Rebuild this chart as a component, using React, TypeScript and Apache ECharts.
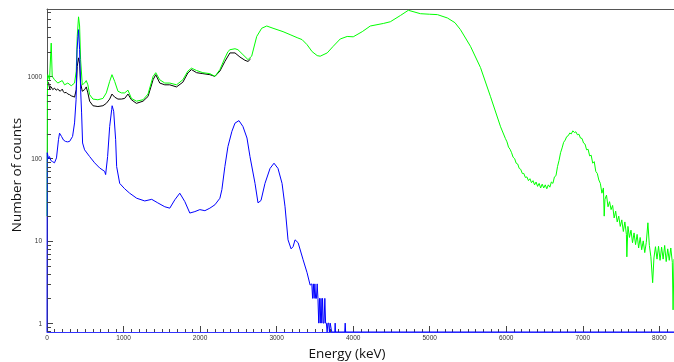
import React, { useEffect, useRef } from "react";
import * as echarts from "echarts";

// Axis ranges (keV, counts)
const X_MIN = 0;
const X_MAX = 8192;
const X_INTERVAL = 1000;
const Y_MIN = 0.78;
const Y_MAX = 6600;

const xTitle = "Energy (keV)";
const yTitle = "Number of counts";

// [energy keV, counts]
const greenData: [number, number][] = [
  [0, 20], [5, 600], [10, 1050], [33, 912], [55, 2540], [68, 1000], [98, 912], [141, 830],
  [199, 890], [229, 790], [272, 830], [317, 770], [360, 830], [382, 1160], [395, 3060],
  [412, 5300], [426, 4100], [439, 1600], [461, 790], [491, 830], [513, 890], [534, 790],
  [557, 600], [600, 530], [665, 520], [731, 540], [775, 630], [819, 870], [849, 1050],
  [884, 870], [927, 660], [972, 630], [1015, 630], [1058, 680], [1103, 540], [1168, 500],
  [1255, 520], [1320, 610], [1386, 1000], [1421, 1110], [1473, 910], [1539, 830], [1604, 830],
  [1692, 790], [1775, 910], [1840, 1160], [1888, 1260], [1954, 1180], [2036, 1110],
  [2128, 1080], [2194, 1000], [2259, 1210], [2324, 1670], [2364, 2000], [2390, 2110],
  [2456, 2170], [2495, 2110], [2560, 1840], [2626, 1600], [2674, 1760], [2740, 3060],
  [2805, 3850], [2871, 4100], [2953, 3850], [3084, 3500], [3176, 3220], [3268, 2960],
  [3333, 2800], [3398, 2430], [3464, 2000], [3530, 1790], [3569, 1760], [3661, 1930],
  [3739, 2320], [3831, 2850], [3922, 3060], [4001, 3030], [4119, 3500], [4224, 4100],
  [4394, 4400], [4486, 4620], [4617, 5500], [4721, 6370], [4878, 5790], [5000, 5700],
  [5101, 5640], [5232, 5130], [5330, 4500], [5402, 3700], [5533, 2320], [5664, 1280],
  [5795, 566], [5926, 244], [5990, 175], [6010, 160], [6030, 138], [6050, 130], [6070, 118],
  [6090, 104], [6110, 100], [6130, 88], [6150, 86], [6170, 76], [6190, 74], [6210, 66],
  [6230, 66], [6250, 59], [6270, 60], [6290, 54], [6310, 57], [6330, 51], [6350, 54],
  [6370, 48], [6390, 52], [6410, 46], [6430, 50], [6450, 44], [6470, 49], [6490, 44],
  [6510, 48], [6530, 43], [6550, 48], [6570, 45], [6590, 52], [6610, 50], [6630, 60],
  [6650, 62], [6670, 80], [6690, 95], [6710, 118], [6730, 135], [6750, 158], [6770, 168],
  [6790, 185], [6810, 190], [6830, 205], [6850, 200], [6870, 218], [6890, 208], [6910, 212],
  [6930, 195], [6950, 198], [6970, 178], [6990, 176], [7010, 155], [7030, 150], [7050, 128],
  [7070, 130], [7090, 108], [7110, 110], [7130, 88], [7150, 92], [7170, 70], [7190, 66],
  [7210, 55], [7230, 50], [7250, 38], [7270, 44], [7280, 20], [7290, 32], [7310, 36],
  [7330, 26], [7350, 30], [7370, 24], [7390, 27], [7410, 19], [7430, 23], [7450, 17],
  [7470, 20], [7490, 15], [7510, 18], [7530, 13], [7550, 17], [7570, 12], [7576, 6.4],
  [7590, 15], [7610, 11], [7630, 13.5], [7650, 9.5], [7670, 12.5], [7690, 9], [7710, 12],
  [7730, 8.2], [7750, 11], [7770, 7.8], [7790, 10], [7810, 7.2], [7830, 9.6], [7851, 16.6],
  [7870, 8.8], [7890, 6.4], [7913, 3.1], [7930, 6.2], [7950, 8.5], [7970, 6], [7990, 8.6],
  [8010, 5.8], [8030, 8.4], [8050, 6], [8070, 8.8], [8090, 5.6], [8110, 8], [8130, 5.8],
  [8150, 8.2], [8170, 5.5], [8180, 1.45], [8192, 6],
];

const blackData: [number, number][] = [
  [20, 850], [35, 700], [45, 760], [55, 745], [75, 690], [98, 720], [120, 680], [140, 700],
  [173, 660], [199, 700], [215, 650], [229, 630], [250, 640], [272, 610], [295, 600],
  [317, 580], [340, 570], [360, 560], [382, 690], [395, 1320], [412, 1680], [426, 1450],
  [439, 830], [461, 660], [491, 690], [513, 745], [534, 630], [557, 500], [600, 440],
  [665, 430], [731, 440], [775, 470], [819, 530], [849, 610], [884, 560], [927, 530],
  [972, 530], [1015, 540], [1058, 610], [1103, 520], [1168, 470], [1255, 500], [1320, 570],
  [1386, 912], [1421, 1050], [1473, 830], [1539, 790], [1604, 790], [1692, 745], [1775, 850],
  [1840, 1100], [1888, 1210], [1954, 1110], [2036, 1080], [2128, 1050], [2194, 1000],
  [2259, 1160], [2324, 1520], [2390, 1930], [2456, 1930], [2521, 1720], [2586, 1570],
  [2626, 1520], [2660, 1630],
];

const blueData: [number, number][] = [
  [0, 0], [3, 118], [20, 100], [33, 106], [50, 95], [72, 92], [98, 89], [124, 102],
  [150, 170], [164, 204], [190, 186], [216, 168], [242, 162], [268, 160], [295, 162],
  [334, 186], [360, 272], [380, 520], [393, 2130], [412, 3700], [426, 2130], [439, 700],
  [452, 360], [465, 155], [491, 128], [557, 106], [622, 89], [688, 77], [753, 70], [766, 64],
  [792, 106], [819, 246], [845, 394], [851, 440], [871, 377], [897, 170], [910, 80],
  [950, 50], [1015, 43], [1080, 38], [1172, 33], [1277, 30.6], [1368, 32], [1447, 29],
  [1539, 26], [1604, 25], [1670, 31.6], [1735, 38], [1801, 30], [1866, 21.8], [1932, 22.7],
  [1997, 24], [2063, 23.3], [2128, 25], [2194, 27.5], [2259, 33], [2285, 42], [2324, 80],
  [2364, 140], [2416, 215], [2456, 270], [2508, 290], [2560, 246], [2613, 178], [2652, 106],
  [2718, 50], [2757, 29], [2796, 31], [2848, 50], [2914, 76], [2966, 88], [3018, 76],
  [3071, 50], [3110, 26], [3149, 10.3], [3189, 8], [3215, 8.5], [3241, 10.3], [3281, 9.5],
  [3346, 5.9], [3398, 4.1], [3438, 2.9], [3460, 3], [3470, 2], [3480, 3], [3490, 2],
  [3500, 3], [3510, 2], [3520, 2], [3530, 3], [3540, 2], [3550, 1], [3560, 2], [3570, 1],
  [3580, 2], [3590, 1], [3600, 2], [3610, 1], [3620, 1], [3630, 2], [3640, 1], [3650, 1],
  [3660, 0], [3670, 1], [3680, 1], [3690, 0], [3700, 1], [3720, 0], [3760, 0], [3765, 1],
  [3770, 0], [3890, 0], [3896, 1], [3902, 0], [8192, 0],
];

// minor tick multipliers per decade on the log axis
const minorMultipliers = [2, 3, 4, 5, 6, 7, 8, 9];
const decades = [0.1, 1, 10, 100, 1000];

const AXIS_COLOR = "#444444";
const LABEL_FONT = "Liberation Sans";
const TITLE_FONT = "Open Sans";
const GRID_LEFT = 47;

export default function App() {
  const ref = useRef<HTMLDivElement>(null);

  useEffect(() => {
    if (!ref.current) return;
    const chart = echarts.init(ref.current, undefined, { renderer: "svg" });

    // zero counts cannot sit on a log axis: draw them on the axis floor
    const floor = (d: [number, number][]) =>
      d.map(([e, c]) => [e, c > 0 ? c : Y_MIN]);

    const lineSeries = (name: string, data: [number, number][], color: string) => ({
      name,
      type: "line",
      xAxisIndex: 0,
      yAxisIndex: 0,
      data: floor(data),
      showSymbol: false,
      symbol: "none",
      silent: true,
      clip: true,
      lineStyle: { color, width: 1 },
      itemStyle: { color },
    });

    const titles = [
      {
        type: "text",
        x: 16,
        y: 175,
        rotation: Math.PI / 2,
        silent: true,
        style: {
          text: yTitle,
          fontSize: 13.5,
          fontFamily: TITLE_FONT,
          fill: "#111",
          align: "center",
          verticalAlign: "middle",
        },
      },
      {
        type: "text",
        x: 347,
        y: 353,
        silent: true,
        style: {
          text: xTitle,
          fontSize: 13.5,
          fontFamily: TITLE_FONT,
          fill: "#111",
          align: "center",
          verticalAlign: "middle",
        },
      },
    ];

    chart.setOption({
      animation: false,
      grid: {
        left: GRID_LEFT,
        right: 0,
        top: 9,
        bottom: 30,
        containLabel: false,
        outerBoundsMode: "none",
      },
      xAxis: [
        {
          type: "value",
          min: X_MIN,
          max: X_MAX,
          interval: X_INTERVAL,
          axisLine: { show: true, lineStyle: { color: "#3333ff", width: 1 } },
          axisTick: { show: true, inside: true, length: 6, lineStyle: { color: AXIS_COLOR } },
          minorTick: { show: true, splitNumber: 10, length: 3, lineStyle: { color: AXIS_COLOR } },
          axisLabel: {
            fontSize: 6.5,
            color: "#333",
            margin: 2,
            fontFamily: LABEL_FONT,
            showMaxLabel: false,
            formatter: (v: number) => String(v),
          },
          splitLine: { show: false },
          minorSplitLine: { show: false },
        },
        {
          type: "value",
          position: "top",
          min: X_MIN,
          max: X_MAX,
          axisLine: { show: true, lineStyle: { color: "#555555", width: 1 } },
          axisTick: { show: false },
          axisLabel: { show: false },
          splitLine: { show: false },
        },
      ],
      yAxis: [
        {
          type: "log",
          logBase: 10,
          min: Y_MIN,
          max: Y_MAX,
          axisLine: { show: true, lineStyle: { color: "#555555", width: 1 } },
          axisTick: { show: true, inside: true, length: 6, lineStyle: { color: AXIS_COLOR } },
          axisLabel: {
            fontSize: 6.5,
            color: "#333",
            margin: 5,
            fontFamily: LABEL_FONT,
            showMinLabel: false,
            showMaxLabel: false,
            formatter: (v: number) => String(Math.round(v)),
          },
          splitLine: { show: false },
        },
      ],
      graphic: titles,
      series: [
        lineSeries("black", blackData, "#000000"),
        lineSeries("green", greenData, "#00ff00"),
        lineSeries("blue", blueData, "#0000ff"),
      ],
    });

    // log-axis minor ticks placed through the axis scale
    const minorLines: any[] = [];
    decades.forEach((d) => {
      minorMultipliers.forEach((m) => {
        const v = d * m;
        if (v <= Y_MIN || v >= Y_MAX) return;
        const pt = chart.convertToPixel({ gridIndex: 0 }, [X_MIN, v]) as number[];
        const py = pt && pt[1];
        if (typeof py !== "number" || !isFinite(py)) return;
        const y = Math.round(py) + 0.5;
        minorLines.push({
          type: "line",
          silent: true,
          z: 100,
          shape: { x1: GRID_LEFT, y1: y, x2: GRID_LEFT + 4, y2: y },
          style: { stroke: AXIS_COLOR, lineWidth: 1 },
        });
      });
    });
    chart.setOption({ graphic: [...titles, ...minorLines] });

    return () => chart.dispose();
  }, []);

  return (
    <div
      ref={ref}
      style={{ position: "fixed", left: 0, top: 0, width: 674, height: 362 }}
    />
  );
}
